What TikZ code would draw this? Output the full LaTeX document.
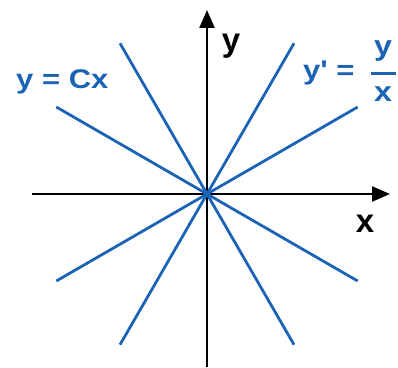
\documentclass[tikz,border=0pt]{standalone}
\usepackage{fontspec}
\setmainfont{Liberation Sans}
\newfontfamily\formulafont[FakeStretch=1.15]{Liberation Sans}
\usetikzlibrary{arrows.meta, positioning}
\definecolor{lineblue}{RGB}{27,99,181}

\begin{document}
\begin{tikzpicture}[
    x=1pt, y=1pt,
    axis/.style={draw=black, line width=2.4pt, -{Triangle[length=18pt, width=15pt]}},
    ray/.style={draw=lineblue, line width=2.8pt},
    axislabel/.style={inner sep=0pt, anchor=base, font=\fontsize{33}{33}\selectfont\bfseries},
    formula/.style={inner sep=0pt, anchor=base west, text=lineblue, font=\fontsize{27}{27}\formulafont\bfseries},
    fractext/.style={inner sep=0pt, text=lineblue, font=\fontsize{28}{28}\formulafont\bfseries},
    fracbar/.style={fill=lineblue, minimum width=25pt, minimum height=3.2pt, inner sep=0pt}
]
    \useasboundingbox (-207,-173) rectangle (191,194);

    % ================= AXES =================
    \coordinate (O) at (0,0);
    \coordinate (xstart) at (-175,0);
    \coordinate (xend) at (183,0);
    \coordinate (ystart) at (0,-173);
    \coordinate (yend) at (0,184);

    \draw[axis] (xstart) -- (xend);
    \draw[axis] (ystart) -- (yend);

    \node[axislabel] (xlabel) at (158,-38) {x};
    \node[axislabel] (ylabel) at (24,142) {y};

    % ================= LINES y = Cx =================
    \coordinate (r30) at (30:174);
    \coordinate (r60) at (60:174);
    \coordinate (r120) at (120:174);
    \coordinate (r150) at (150:174);
    \coordinate (r210) at (210:174);
    \coordinate (r240) at (240:174);
    \coordinate (r300) at (300:174);
    \coordinate (r330) at (330:174);

    \draw[ray] (r30) -- (O) -- (r210);
    \draw[ray] (r60) -- (O) -- (r240);
    \draw[ray] (r120) -- (O) -- (r300);
    \draw[ray] (r150) -- (O) -- (r330);

    % ================= LABELS =================
    \node[formula] (family) at (-191,106) {y = Cx};
    \node[formula] (ode) at (96,114) {y' =};

    \node[fracbar] (fbar) at (176,120.5) {};
    \node[fractext, above=10pt of fbar] (fnum) {y};
    \node[fractext, below=11pt of fbar] (fden) {x};

\end{tikzpicture}
\end{document}
